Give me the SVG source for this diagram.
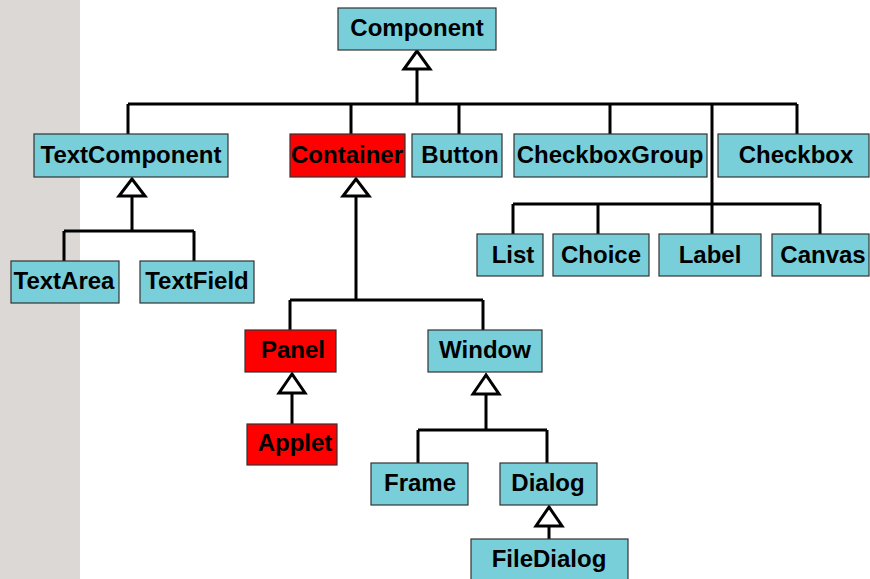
<svg xmlns="http://www.w3.org/2000/svg" width="870" height="579" viewBox="0 0 870 579">
  <style>
    .box { stroke: #333; stroke-width: 1.2; }
    .awt { fill: #78CFDA; }
    .hl { fill: #FF0000; }
    .lbl { font-family: "Liberation Sans", Arial, sans-serif; font-weight: bold; font-size: 24px; fill: #000; text-anchor: middle; }
    .wire { fill: none; stroke: #000; stroke-width: 3; }
    .head { fill: #fff; stroke: #000; stroke-width: 3; stroke-linejoin: miter; }
  </style>
  <rect x="0" y="0" width="870" height="579" fill="#fff"/>
  <rect x="0" y="0" width="80" height="579" fill="#DCD8D5"/>

  <g id="connectors">
    <!-- Component children -->
    <path class="wire" d="M417 68 V104 M128 104 H797 M128 104 V134 M351 104 V134 M459 104 V134 M610 104 V134 M797 104 V134 M712 104 V234"/>
    <path class="wire" d="M513 204 H820 M513 204 V234 M598 204 V234 M820 204 V234"/>
    <!-- TextComponent children -->
    <path class="wire" d="M132 195 V231 M64 231 H194 M64 231 V261 M194 231 V261"/>
    <!-- Container children -->
    <path class="wire" d="M356 195 V300 M290 300 H483 M290 300 V330 M483 300 V330"/>
    <!-- Panel -> Applet -->
    <path class="wire" d="M292 392 V424"/>
    <!-- Window children -->
    <path class="wire" d="M486 393 V430 M418 430 H547 M418 430 V463 M547 430 V463"/>
    <!-- Dialog -> FileDialog -->
    <path class="wire" d="M549 525 V539"/>
    <!-- generalization heads -->
    <polygon class="head" points="417,51 404,69 430,69"/>
    <polygon class="head" points="132,179 119,196 145,196"/>
    <polygon class="head" points="356,179 343,196 369,196"/>
    <polygon class="head" points="292,374 279,393 305,393"/>
    <polygon class="head" points="486,375 473,394 499,394"/>
    <polygon class="head" points="549,507 536,526 562,526"/>
  </g>

  <g id="component"><rect class="box awt" x="338" y="8" width="158" height="42"/><text class="lbl" x="417" y="36">Component</text></g>
  <g id="textcomponent"><rect class="box awt" x="34" y="134" width="194" height="43"/><text class="lbl" x="131" y="163">TextComponent</text></g>
  <g id="container"><rect class="box hl" x="290" y="134" width="115" height="43"/><text class="lbl" x="347" y="163">Container</text></g>
  <g id="button"><rect class="box awt" x="412" y="134" width="90" height="43"/><text class="lbl" x="460" y="163">Button</text></g>
  <g id="checkboxgroup"><rect class="box awt" x="514" y="134" width="193" height="43"/><text class="lbl" x="610" y="163">CheckboxGroup</text></g>
  <g id="checkbox"><rect class="box awt" x="718" y="134" width="151" height="43"/><text class="lbl" x="796" y="163">Checkbox</text></g>
  <g id="list"><rect class="box awt" x="477" y="234" width="66" height="42"/><text class="lbl" x="513" y="263">List</text></g>
  <g id="choice"><rect class="box awt" x="553" y="234" width="96" height="42"/><text class="lbl" x="601" y="263">Choice</text></g>
  <g id="label"><rect class="box awt" x="659" y="234" width="102" height="42"/><text class="lbl" x="710" y="263">Label</text></g>
  <g id="canvas"><rect class="box awt" x="772" y="234" width="97" height="42"/><text class="lbl" x="823" y="263">Canvas</text></g>
  <g id="textarea"><rect class="box awt" x="11" y="261" width="108" height="42"/><text class="lbl" x="64" y="289">TextArea</text></g>
  <g id="textfield"><rect class="box awt" x="140" y="261" width="114" height="42"/><text class="lbl" x="197" y="289">TextField</text></g>
  <g id="panel"><rect class="box hl" x="245" y="330" width="91" height="42"/><text class="lbl" x="293" y="358">Panel</text></g>
  <g id="window"><rect class="box awt" x="428" y="330" width="114" height="42"/><text class="lbl" x="485" y="358">Window</text></g>
  <g id="applet"><rect class="box hl" x="247" y="424" width="90" height="41"/><text class="lbl" x="295" y="451">Applet</text></g>
  <g id="frame"><rect class="box awt" x="371" y="463" width="97" height="42"/><text class="lbl" x="420" y="491">Frame</text></g>
  <g id="dialog"><rect class="box awt" x="500" y="463" width="97" height="42"/><text class="lbl" x="548" y="491">Dialog</text></g>
  <g id="filedialog"><rect class="box awt" x="471" y="539" width="157" height="46"/><text class="lbl" x="549" y="567">FileDialog</text></g>
</svg>
